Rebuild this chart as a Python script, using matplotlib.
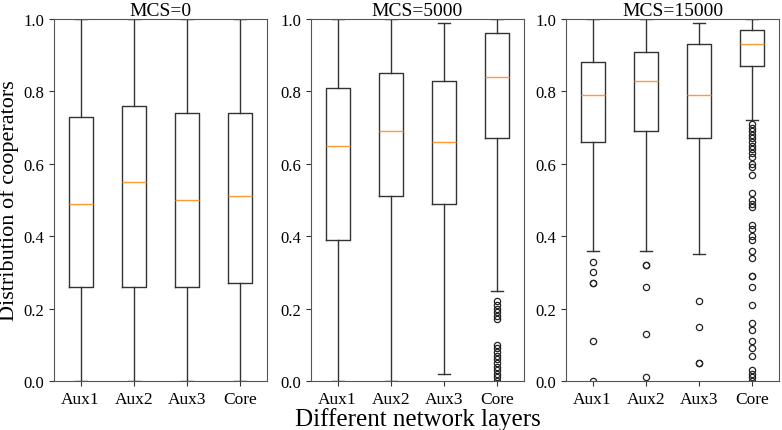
import matplotlib
matplotlib.use("Agg")
import matplotlib.pyplot as plt

plt.rcParams['font.family'] = ['Liberation Serif', 'DejaVu Serif']

layers = ['Aux1', 'Aux2', 'Aux3', 'Core']
titles = ['MCS=0', 'MCS=5000', 'MCS=15000']

# box statistics: (whislo, q1, med, q3, whishi)
mcs0_stats = [
    (0.00, 0.26, 0.49, 0.73, 1.00),
    (0.00, 0.26, 0.55, 0.76, 1.00),
    (0.00, 0.26, 0.50, 0.74, 1.00),
    (0.00, 0.27, 0.51, 0.74, 1.00),
]
mcs0_fliers = [[], [], [], []]

mcs5000_stats = [
    (0.00, 0.39, 0.65, 0.81, 1.00),
    (0.00, 0.51, 0.69, 0.85, 1.00),
    (0.02, 0.49, 0.66, 0.83, 0.99),
    (0.25, 0.67, 0.84, 0.96, 1.00),
]
mcs5000_fliers = [
    [],
    [],
    [],
    [0.22, 0.21, 0.20, 0.19, 0.18, 0.17,
     0.10, 0.09, 0.08, 0.07, 0.06, 0.05, 0.04, 0.03, 0.02, 0.01, 0.00],
]

mcs15000_stats = [
    (0.36, 0.66, 0.79, 0.88, 1.00),
    (0.36, 0.69, 0.83, 0.91, 1.00),
    (0.35, 0.67, 0.79, 0.93, 0.99),
    (0.72, 0.87, 0.93, 0.97, 1.00),
]
mcs15000_fliers = [
    [0.33, 0.30, 0.27, 0.27, 0.11, 0.00],
    [0.32, 0.32, 0.26, 0.13, 0.01],
    [0.22, 0.15, 0.05, 0.05],
    [0.71, 0.70, 0.69, 0.68, 0.67, 0.66, 0.65, 0.64, 0.63, 0.62, 0.60,
     0.59, 0.57, 0.52, 0.50, 0.49, 0.48, 0.43, 0.42, 0.40, 0.39, 0.36,
     0.34, 0.29, 0.29, 0.26, 0.21, 0.16, 0.14, 0.11, 0.09, 0.07, 0.03,
     0.02, 0.01, 0.00],
]

panels = [
    (mcs0_stats, mcs0_fliers),
    (mcs5000_stats, mcs5000_fliers),
    (mcs15000_stats, mcs15000_fliers),
]


def make_bxp(stats, fliers):
    out = []
    for name, (lo, q1, med, q3, hi), fl in zip(layers, stats, fliers):
        out.append(dict(label=name, whislo=lo, q1=q1, med=med, q3=q3,
                        whishi=hi, fliers=fl))
    return out


fig = plt.figure(figsize=(7.82, 4.31), dpi=100)
lefts = [54 / 782, 311 / 782, 566 / 782]
w = 213 / 782
bottom = 1 - 382 / 431
h = 362 / 431

axes = []
for i, (stats, fliers) in enumerate(panels):
    ax = fig.add_axes([lefts[i], bottom, w, h])
    ax.bxp(make_bxp(stats, fliers), widths=0.45,
           boxprops=dict(color='#333333', linewidth=1),
           whiskerprops=dict(color='#333333', linewidth=1),
           capprops=dict(color='#333333', linewidth=1),
           medianprops=dict(color='#ff9933', linewidth=1),
           flierprops=dict(marker='o', markerfacecolor='none',
                           markeredgecolor='#222222', markersize=4.5,
                           markeredgewidth=0.9))
    ax.set_ylim(0, 1)
    ax.set_yticks([0.0, 0.2, 0.4, 0.6, 0.8, 1.0])
    ax.tick_params(axis='y', labelsize=12, color='#333333')
    ax.tick_params(axis='x', labelsize=12.5, color='#333333')
    for s in ax.spines.values():
        s.set_color('#555555')
    ax.set_title(titles[i], fontsize=14, pad=2)
    axes.append(ax)

axes[0].set_ylabel('Distribution of cooperators', fontsize=16, labelpad=3)
axes[1].set_xlabel('Different network layers', fontsize=18, labelpad=0)

fig.savefig('out.png', dpi=100)
